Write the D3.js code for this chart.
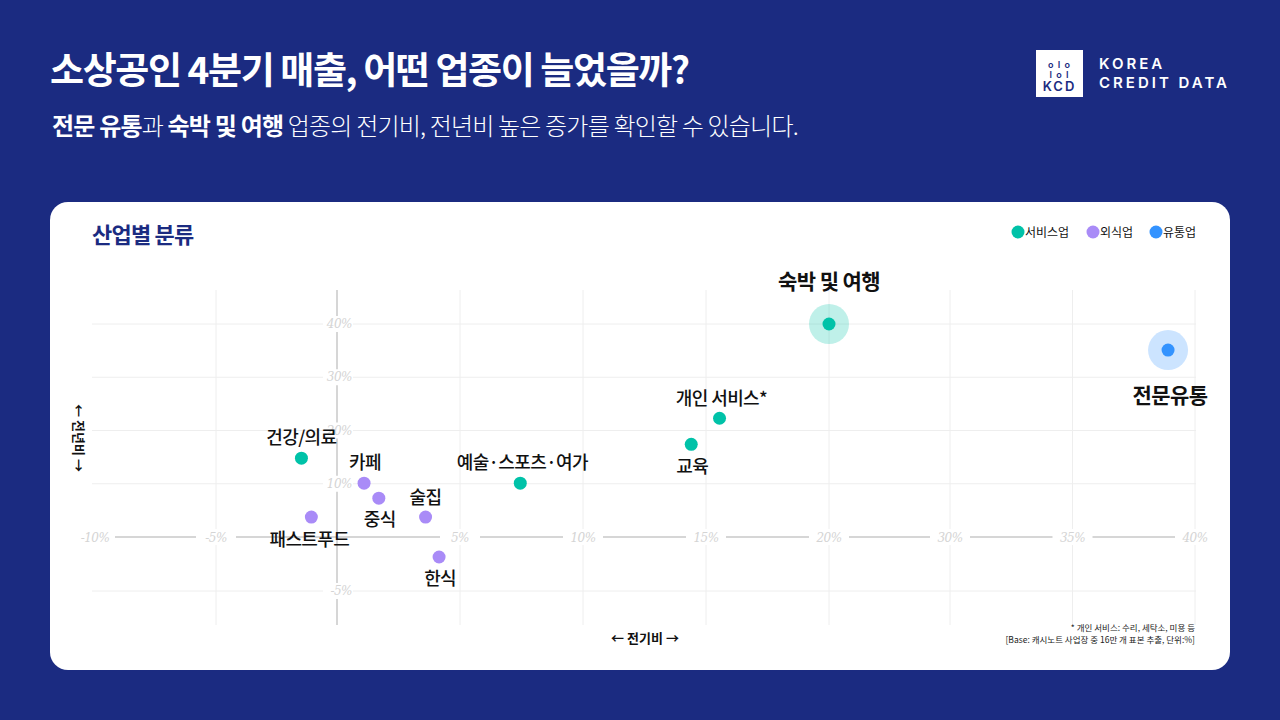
<!DOCTYPE html>
<html><head><meta charset="utf-8">
<script src="https://cdn.jsdelivr.net/npm/d3@7"></script>
<style>body{margin:0;background:#1b2b81;font-family:"Noto Sans CJK KR","Noto Sans",sans-serif}</style>
</head><body><div id="wrapper"></div>
<script>
// data
const names = ["숙박 및 여행","전문유통","개인 서비스*","교육","예술·스포츠·여가","건강/의료","카페","중식","술집","패스트푸드","한식"];
const groups = ["서비스업","유통업","서비스업","서비스업","서비스업","서비스업","외식업","외식업","외식업","외식업","외식업"];
const qoq = [20, 38.9, 15.55, 14.4, 7.45, -1.47, 1.1, 1.7, 3.6, -1.06, 4.15];
const yoy = [40, 35.1, 22.3, 17.4, 10.1, 14.8, 10.1, 7.3, 3.75, 3.75, -1.85];
const xTicks = [-10, -5, 5, 10, 15, 20, 30, 35, 40];
const yTicks = [40, 30, 20, 10, -5];
const legendGroups = ["서비스업","외식업","유통업"];
const colors = ["#00c2a8","#a98bf7","#3393ff"];

const W = 1280, H = 720;
const svg = d3.select("#wrapper").append("svg").attr("width", W).attr("height", H);

svg.append("rect").attr("width", W).attr("height", H).attr("fill", "#1b2b81");

// header
svg.append("text").attr("x", 50).attr("y", 84).attr("fill", "#fff")
  .attr("font-size", 37).attr("font-weight", 700).attr("letter-spacing", -1.4)
  .text("소상공인 4분기 매출, 어떤 업종이 늘었을까?");
const sub = svg.append("text").attr("x", 52).attr("y", 135).attr("fill", "#fff")
  .attr("font-size", 24).attr("letter-spacing", -0.8);
sub.append("tspan").attr("font-weight", 700).text("전문 유통");
sub.append("tspan").attr("font-weight", 300).text("과 ");
sub.append("tspan").attr("font-weight", 700).text("숙박 및 여행");
sub.append("tspan").attr("font-weight", 300).text(" 업종의 전기비, 전년비 높은 증가를 확인할 수 있습니다.");

// logo
svg.append("rect").attr("x", 1036).attr("y", 50).attr("width", 47).attr("height", 47).attr("fill", "#fff");
[["o I o", 68], ["I o I", 78], ["KCD", 91]].forEach(([t, y], i) => {
  svg.append("text").attr("x", 1059.5).attr("y", y).attr("text-anchor", "middle")
    .attr("fill", "#1b2b81").attr("font-size", i === 2 ? 13 : 9).attr("font-weight", 600)
    .attr("letter-spacing", i === 2 ? 2 : 1).attr("font-family", "Inter").text(t);
});
svg.append("text").attr("x", 1099).attr("y", 69).attr("fill", "#fff").attr("font-size", 15)
  .attr("font-weight", 600).attr("letter-spacing", 3).attr("font-family", "Inter").text("KOREA");
svg.append("text").attr("x", 1099).attr("y", 88).attr("fill", "#fff").attr("font-size", 15)
  .attr("font-weight", 600).attr("letter-spacing", 3).attr("font-family", "Inter").text("CREDIT DATA");

// card
svg.append("rect").attr("x", 50).attr("y", 202).attr("width", 1180).attr("height", 468)
  .attr("rx", 18).attr("fill", "#fff");
svg.append("text").attr("x", 92).attr("y", 243).attr("fill", "#1b2b81").attr("font-size", 22)
  .attr("font-weight", 700).attr("letter-spacing", -0.8).text("산업별 분류");

// legend
const lg = svg.append("g");
let lx = 1018;
legendGroups.forEach((g, i) => {
  lg.append("circle").attr("cx", lx).attr("cy", 232).attr("r", 6.5).attr("fill", colors[i]);
  lg.append("text").attr("x", lx + 7).attr("y", 236.5).attr("font-size", 12).attr("fill", "#111").text(g);
  lx += 75 - i * 12;
});

// scales (the reference uses uneven spacing between ticks)
const x = d3.scaleLinear().domain([-10, 0, 20, 30, 40]).range([95, 337, 829, 950, 1195]);
const y = d3.scaleLinear().domain([-5, 0, 40]).range([591, 537, 324]);
const color = d3.scaleOrdinal().domain(legendGroups).range(colors);

const grid = svg.append("g");
grid.selectAll(".vx").data(xTicks.filter(d => d !== -10)).join("line")
  .attr("x1", d => x(d)).attr("x2", d => x(d)).attr("y1", 290).attr("y2", 625)
  .attr("stroke", "#eeeeee").attr("stroke-width", 1);
grid.selectAll(".hy").data(yTicks).join("line")
  .attr("x1", 92).attr("x2", 1196).attr("y1", d => y(d)).attr("y2", d => y(d))
  .attr("stroke", "#eeeeee").attr("stroke-width", 1);

// zero axes
svg.append("line").attr("x1", 80).attr("x2", 1210).attr("y1", y(0)).attr("y2", y(0))
  .attr("stroke", "#d6d6d6").attr("stroke-width", 2);
svg.append("line").attr("x1", x(0)).attr("x2", x(0)).attr("y1", 290).attr("y2", 625)
  .attr("stroke", "#d6d6d6").attr("stroke-width", 2);

const tickStyle = sel => sel.attr("font-size", 12).attr("font-style", "italic")
  .attr("font-family", "DejaVu Serif, serif").attr("fill", "#d4d4d4").attr("letter-spacing", -0.5);
const fmt = d => (d < 0 ? "-" + Math.abs(d) : d) + "%";
svg.append("g").selectAll("g").data(xTicks).join("g").each(function (d) {
  const g = d3.select(this);
  g.append("rect").attr("x", x(d) - 20).attr("y", y(0) - 8).attr("width", 40).attr("height", 16).attr("fill", "#fff");
  g.append("text").attr("x", x(d)).attr("y", y(0) + 5).attr("text-anchor", "middle").call(tickStyle).text(fmt(d));
});
svg.append("g").selectAll("g").data(yTicks).join("g").each(function (d) {
  const g = d3.select(this);
  g.append("rect").attr("x", x(0) - 14).attr("y", y(d) - 8).attr("width", 30).attr("height", 16).attr("fill", "#fff");
  g.append("text").attr("x", x(0) + 15).attr("y", y(d) + 4).attr("text-anchor", "end").call(tickStyle).text(fmt(d));
});

// axis titles
svg.append("text").attr("x", 645).attr("y", 643).attr("text-anchor", "middle")
  .attr("font-size", 13).attr("font-weight", 700).attr("fill", "#111").text("← 전기비 →");
svg.append("text").attr("transform", "translate(74,438) rotate(90)").attr("text-anchor", "middle")
  .attr("font-size", 13).attr("font-weight", 700).attr("fill", "#111").text("← 전년비 →");

// footnote
svg.append("text").attr("x", 1195).attr("y", 631).attr("text-anchor", "end").attr("font-size", 8.5)
  .attr("fill", "#222").text("* 개인  서비스: 수리, 세탁소, 미용 등");
svg.append("text").attr("x", 1195).attr("y", 643).attr("text-anchor", "end").attr("font-size", 8.5)
  .attr("fill", "#222").text("[Base: 캐시노트 사업장 중 16만 개 표본 추출, 단위:%]");

// points
const pts = names.map((n, i) => ({ n, g: groups[i], qx: qoq[i], qy: yoy[i] }));
const highlight = ["숙박 및 여행", "전문유통"];
svg.append("g").selectAll("circle").data(pts.filter(d => highlight.includes(d.n))).join("circle")
  .attr("cx", d => x(d.qx)).attr("cy", d => y(d.qy)).attr("r", 20)
  .attr("fill", d => color(d.g)).attr("opacity", 0.25);
svg.append("g").selectAll("circle").data(pts).join("circle")
  .attr("cx", d => x(d.qx)).attr("cy", d => y(d.qy)).attr("r", 6.5)
  .attr("fill", d => color(d.g));

// labels: [dx, dy] offsets from point
const labelOffsets = {
  "숙박 및 여행": [0, -35], "전문유통": [2, 53], "개인 서비스*": [2, -13], "교육": [1, 29],
  "예술·스포츠·여가": [2, -14], "건강/의료": [0, -14], "카페": [1, -14], "중식": [1, 28],
  "술집": [0, -13], "패스트푸드": [-2, 29], "한식": [1, 28]
};
svg.append("g").selectAll("text").data(pts).join("text")
  .attr("x", d => x(d.qx) + labelOffsets[d.n][0]).attr("y", d => y(d.qy) + labelOffsets[d.n][1])
  .attr("text-anchor", "middle").attr("fill", "#111")
  .attr("font-size", d => highlight.includes(d.n) ? 21 : 18)
  .attr("font-weight", d => highlight.includes(d.n) ? 700 : 500)
  .attr("letter-spacing", -0.6)
  .text(d => d.n);
</script></body></html>
